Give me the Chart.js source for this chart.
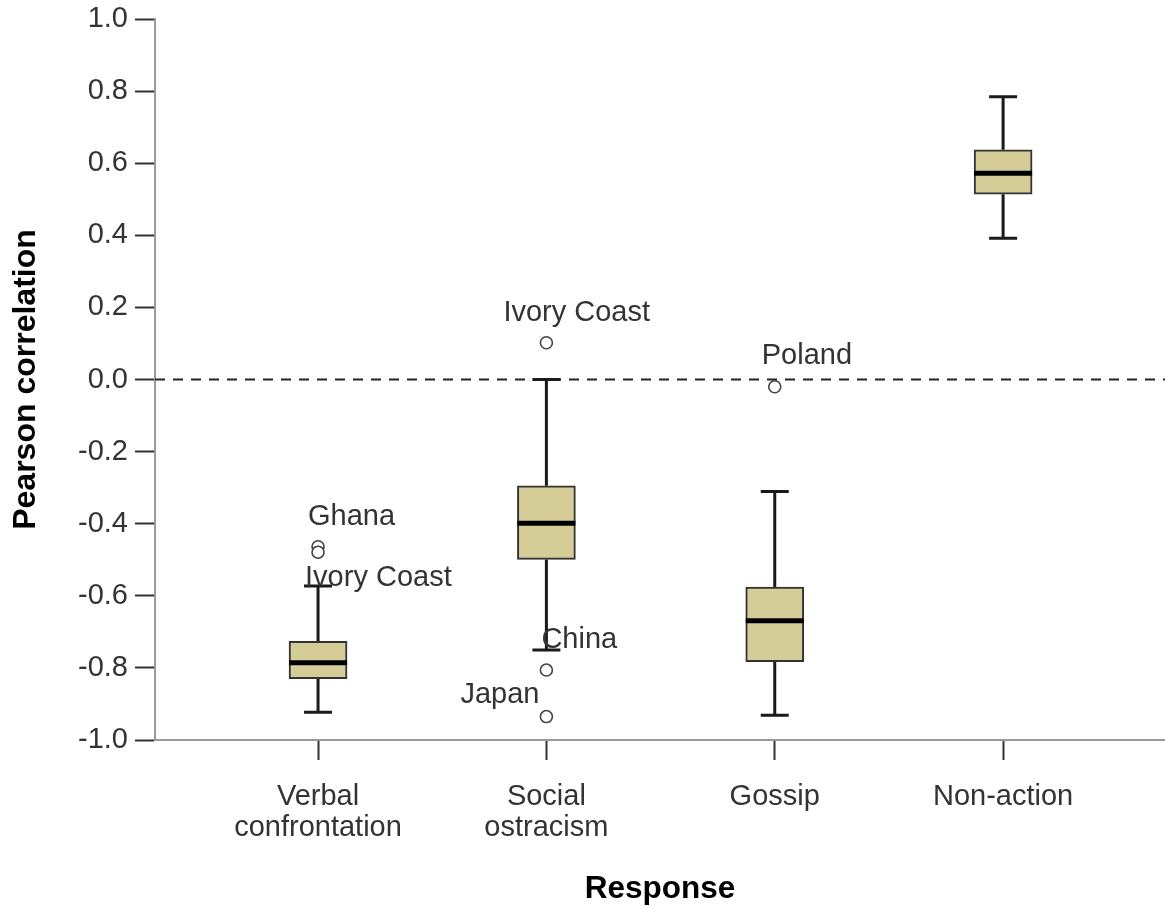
<!DOCTYPE html>
<html>
<head>
<meta charset="utf-8">
<script src="https://cdn.jsdelivr.net/npm/chart.js@4.4.1/dist/chart.umd.min.js"></script>
<style>
  html, body { margin: 0; padding: 0; background: #ffffff; }
  #wrap { width: 1165px; height: 907px; }
</style>
</head>
<body>
<div id="wrap"><canvas id="c" width="1165" height="907"></canvas></div>
<script>
// ---- Data ----
const categories = [['Verbal', 'confrontation'], ['Social', 'ostracism'], ['Gossip'], ['Non-action']];
const whiskerLow  = [-0.923, -0.750, -0.931, 0.392];
const q1          = [-0.830, -0.499, -0.783, 0.514];
const median      = [-0.786, -0.399, -0.669, 0.572];
const q3          = [-0.726, -0.295, -0.576, 0.637];
const whiskerHigh = [-0.573,  0.000, -0.311, 0.784];

const outlierGroup = [0, 0, 1, 1, 1, 2];
const outlierValue = [-0.464, -0.479, 0.102, -0.806, -0.935, -0.020];
const outlierLabel = ['Ghana', 'Ivory Coast', 'Ivory Coast', 'China', 'Japan', 'Poland'];

const yTickValues = [-1.0, -0.8, -0.6, -0.4, -0.2, 0.0, 0.2, 0.4, 0.6, 0.8, 1.0];
const referenceValue = 0;

// ---- Styles ----
const FONT = "'Liberation Sans', Arial, sans-serif";
const BOX_FILL = '#d4cd98';
const DARK = '#1a1a1a';
const labelPlacement = [
  { dx: -10, dy: -30, align: 'left' },
  { dx: -13, dy: 26, align: 'left' },
  { dx: -43, dy: -30, align: 'left' },
  { dx: -5, dy: -30, align: 'left' },
  { dx: -7, dy: -22, align: 'right' },
  { dx: -13, dy: -31, align: 'left' }
];

const boxData = categories.map((c, i) => ({ x: i, y: [q1[i], q3[i]] }));
const outlierData = outlierValue.map((v, i) => ({ x: outlierGroup[i], y: v }));

const boxPlugin = {
  id: 'boxExtras',
  beforeDatasetsDraw(chart) {
    const { ctx, chartArea, scales: { y } } = chart;
    const py = y.getPixelForValue(referenceValue);
    ctx.save();
    ctx.strokeStyle = '#222';
    ctx.lineWidth = 2;
    ctx.setLineDash([10, 8]);
    ctx.beginPath();
    ctx.moveTo(chartArea.left, py);
    ctx.lineTo(chartArea.right, py);
    ctx.stroke();
    ctx.restore();
  },
  afterDatasetDraw(chart, args) {
    if (args.index !== 0) return;
    const { ctx, scales: { x, y } } = chart;
    ctx.save();
    ctx.lineCap = 'butt';
    categories.forEach((c, i) => {
      const px = x.getPixelForValue(i);
      const cap = 14;
      ctx.lineWidth = 3;
      ctx.strokeStyle = DARK;
      ctx.beginPath();
      ctx.moveTo(px, y.getPixelForValue(q3[i]));
      ctx.lineTo(px, y.getPixelForValue(whiskerHigh[i]));
      ctx.moveTo(px, y.getPixelForValue(q1[i]));
      ctx.lineTo(px, y.getPixelForValue(whiskerLow[i]));
      ctx.moveTo(px - cap, y.getPixelForValue(whiskerHigh[i]));
      ctx.lineTo(px + cap, y.getPixelForValue(whiskerHigh[i]));
      ctx.moveTo(px - cap, y.getPixelForValue(whiskerLow[i]));
      ctx.lineTo(px + cap, y.getPixelForValue(whiskerLow[i]));
      ctx.stroke();
      const bar = chart.getDatasetMeta(0).data[i];
      const half = bar.width / 2;
      ctx.lineWidth = 5;
      ctx.strokeStyle = '#000';
      ctx.beginPath();
      ctx.moveTo(px - half, y.getPixelForValue(median[i]));
      ctx.lineTo(px + half, y.getPixelForValue(median[i]));
      ctx.stroke();
    });
    ctx.restore();
  },
  afterDraw(chart) {
    const { ctx, scales: { x, y } } = chart;
    ctx.save();
    ctx.font = '29px ' + FONT;
    ctx.fillStyle = '#333';
    ctx.textBaseline = 'middle';
    outlierLabel.forEach((t, i) => {
      const p = labelPlacement[i];
      ctx.textAlign = p.align;
      ctx.fillText(t, x.getPixelForValue(outlierGroup[i]) + p.dx, y.getPixelForValue(outlierValue[i]) + p.dy);
    });
    ctx.restore();
  }
};

new Chart(document.getElementById('c'), {
  type: 'bar',
  data: {
    datasets: [
      {
        type: 'bar',
        data: boxData,
        backgroundColor: BOX_FILL,
        borderColor: '#333',
        borderWidth: 2,
        borderSkipped: false,
        barThickness: 58,
        order: 2
      },
      {
        type: 'scatter',
        data: outlierData,
        pointStyle: 'circle',
        pointRadius: 6,
        pointBorderWidth: 1.6,
        pointBorderColor: '#444',
        pointBackgroundColor: '#ffffff',
        order: 1
      }
    ]
  },
  options: {
    responsive: false,
    animation: false,
    events: [],
    layout: { autoPadding: false, padding: { top: 19, right: 0, left: 0, bottom: 0 } },
    plugins: { legend: { display: false }, tooltip: { enabled: false } },
    scales: {
      x: {
        type: 'linear',
        position: 'bottom',
        offset: false,
        min: -0.714,
        max: 3.709,
        afterBuildTicks: (axis) => { axis.ticks = categories.map((c, i) => ({ value: i })); },
        afterFit: (axis) => { axis.height = 167; axis.paddingLeft = 0; axis.paddingRight = 0; },
        ticks: {
          autoSkip: false,
          maxRotation: 0,
          padding: 21,
          color: '#333',
          font: { family: FONT, size: 29, lineHeight: 1.07 },
          callback: (v) => categories[v]
        },
        grid: { offset: false, drawOnChartArea: false, drawTicks: true, tickLength: 20, tickWidth: 2, tickColor: '#333' },
        border: { display: true, color: '#9a9a9a', width: 2 },
        title: {
          display: true,
          text: 'Response',
          color: '#000',
          font: { family: FONT, size: 31.5, weight: 'bold', lineHeight: 1.1 },
          padding: { top: 0, bottom: 0 }
        }
      },
      y: {
        type: 'linear',
        min: -1,
        max: 1,
        afterBuildTicks: (axis) => { axis.ticks = yTickValues.map(v => ({ value: v })); },
        afterFit: (axis) => { axis.width = 155; axis.paddingTop = 0; axis.paddingBottom = 0; },
        ticks: {
          padding: 7,
          color: '#333',
          font: { family: FONT, size: 29 },
          callback: (v) => (Math.abs(v) < 1e-9 ? '0.0' : v.toFixed(1))
        },
        grid: { drawOnChartArea: false, drawTicks: true, tickLength: 20, tickWidth: 2, tickColor: '#333' },
        border: { display: true, color: '#9a9a9a', width: 2 },
        title: {
          display: true,
          text: 'Pearson correlation',
          color: '#000',
          font: { family: FONT, size: 32, weight: 'bold' },
          padding: { top: 7, bottom: 0 }
        }
      }
    }
  },
  plugins: [boxPlugin]
});
</script>
</body>
</html>
